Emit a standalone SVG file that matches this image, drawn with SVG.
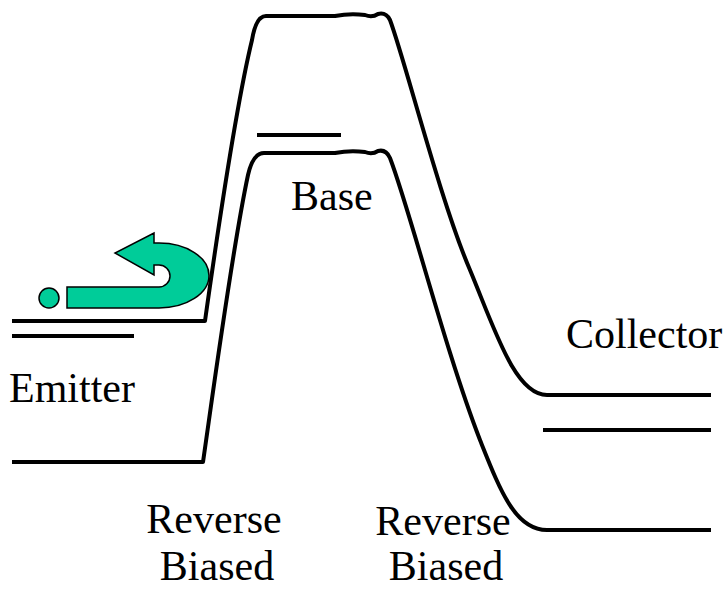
<svg xmlns="http://www.w3.org/2000/svg" width="726" height="589" viewBox="0 0 726 589">
  <style>
    .band { fill: none; stroke: #000; stroke-width: 4; stroke-linejoin: round; }
    .level { stroke: #000; stroke-width: 4; }
    .label { font-family: "Liberation Serif", "Times New Roman", serif; font-size: 42px; fill: #000; }
    .carrier { fill: #00CC99; stroke: #000; stroke-width: 1.5; }
  </style>
  <rect width="726" height="589" fill="#fff"/>

  <!-- conduction band edge -->
  <path class="band" d="M 12 321 H 205 C 215 250, 235 110, 252 40 Q 256 16 266 16 H 335 Q 350 13 365 15 Q 372 18 378 14 Q 386 12 390 20 C 405 60, 440 200, 470 270 C 495 330, 515 395, 547 395 H 711"/>
  <!-- valence band edge -->
  <path class="band" d="M 12 462 H 203 C 212 400, 232 250, 248 175 Q 253 153 264 153 H 335 Q 350 150 365 152 Q 372 155 378 151 Q 386 149 390 158 C 410 210, 445 350, 480 440 C 500 490, 515 530, 547 530 H 711"/>

  <!-- energy levels -->
  <g id="levels">
    <line class="level" x1="12" y1="336" x2="134" y2="336"/>
    <line class="level" x1="257" y1="135" x2="341" y2="135"/>
    <line class="level" x1="543" y1="430" x2="711" y2="430"/>
  </g>

  <!-- reflected carrier -->
  <g id="carrier">
    <circle class="carrier" cx="49" cy="298" r="10"/>
    <path class="carrier" d="M 67 287 H 159 A 11 11 0 0 0 159 265 H 154 V 275 L 115 253 L 154 233 V 243 H 159 A 50 32.5 0 0 1 159 308 H 67 Z"/>
  </g>

  <!-- labels -->
  <g id="labels">
    <text class="label" x="291" y="210">Base</text>
    <text class="label" x="9" y="402">Emitter</text>
    <text class="label" x="566" y="348">Collector</text>
    <text class="label" x="214" y="533" text-anchor="middle">Reverse</text>
    <text class="label" x="217" y="580" text-anchor="middle">Biased</text>
    <text class="label" x="443" y="535" text-anchor="middle">Reverse</text>
    <text class="label" x="446" y="580" text-anchor="middle">Biased</text>
  </g>
</svg>
